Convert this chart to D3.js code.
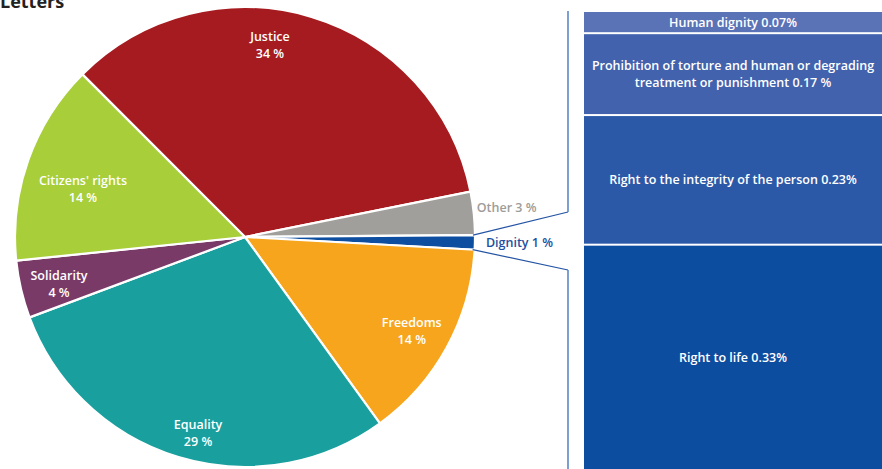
<!DOCTYPE html>
<html><head><meta charset="utf-8">
<script src="https://cdn.jsdelivr.net/npm/d3@7"></script>
<style>
html,body{margin:0;padding:0;background:#fff;}
svg text{font-family:"Open Sans","Noto Sans",sans-serif;}
</style></head>
<body><svg id="c" width="882" height="469"></svg>
<script>
// ---- data ----
const categories = ["Justice", "Other", "Dignity", "Freedoms", "Equality", "Solidarity", "Citizens' rights"];
const shares = [34, 3, 1, 14, 29, 4, 14];
const pieLabels = ["34 %", "3 %", "1 %", "14 %", "29 %", "4 %", "14 %"];
const subCategories = ["Human dignity", "Prohibition of torture and human or degrading treatment or punishment", "Right to the integrity of the person", "Right to life"];
const subShares = [0.07, 0.17, 0.23, 0.33];
const subLabels = [["Human dignity 0.07%"], ["Prohibition of torture and human or degrading", "treatment or punishment 0.17 %"], ["Right to the integrity of the person 0.23%"], ["Right to life 0.33%"]];

// ---- styles / layout ----
const colors = {"Justice":"#a61b1f","Other":"#a19f9b","Dignity":"#0e4ea0","Freedoms":"#f7a51d","Equality":"#189f9e","Solidarity":"#7a3a68","Citizens' rights":"#a8ce3a"};
const subColors = ["#5a72b6", "#4262ad", "#2c59a7", "#0d4da0"];
const outside = {"Other":"#9e9c98","Dignity":"#1f4fa0"};
const nudge = {"Justice":[-30,-10],"Citizens' rights":[17,16],"Solidarity":[-1,4],"Equality":[8,14],"Freedoms":[0,3]};
const outNudge = {"Other":[-7,0],"Dignity":[1,4]};

const svg = d3.select("#c");
const cx = 245, cy = 237, R = 230;

svg.append("text").attr("x", 0).attr("y", 8).attr("font-size", 18).attr("font-weight", 700)
  .attr("fill", "#222").text("Letters");

const data = categories.map((c, i) => ({cat: c, value: shares[i], label: pieLabels[i]}));
const pie = d3.pie().sort(null).value(d => d.value).startAngle(-Math.PI / 4).endAngle(2 * Math.PI - Math.PI / 4);
const arcs = pie(data);
const arc = d3.arc().innerRadius(0).outerRadius(R);
const labelArc = d3.arc().innerRadius(190).outerRadius(190);
const outArc = d3.arc().innerRadius(240).outerRadius(240);

const g = svg.append("g").attr("transform", `translate(${cx},${cy})`);

const dig = arcs.find(a => a.data.cat === "Dignity");
const pt = (ang, r) => [Math.sin(ang) * r, -Math.cos(ang) * r];
const bx = 568 - cx;
const p1 = pt(dig.startAngle, R - 2), p2 = pt(dig.endAngle, R - 2);

g.selectAll("path.slice").data(arcs).join("path").attr("class", "slice")
  .attr("d", arc).attr("fill", d => colors[d.data.cat])
  .attr("stroke", "#fff").attr("stroke-width", 2.2).attr("stroke-linejoin", "round");

g.append("path").attr("d", `M${p1[0]},${p1[1]} L${bx},${212 - cy}`).attr("stroke", "#2454a3").attr("stroke-width", 1.2).attr("fill", "none");
g.append("path").attr("d", `M${p2[0]},${p2[1]} L${bx},${270 - cy}`).attr("stroke", "#2454a3").attr("stroke-width", 1.2).attr("fill", "none");
svg.append("line").attr("x1", 568).attr("x2", 568).attr("y1", 11).attr("y2", 212).attr("stroke", "#5a88c6").attr("stroke-width", 1.6);
svg.append("line").attr("x1", 568).attr("x2", 568).attr("y1", 270).attr("y2", 469).attr("stroke", "#5a88c6").attr("stroke-width", 1.6);

arcs.filter(a => !outside[a.data.cat]).forEach(a => {
  const [x, y] = labelArc.centroid(a);
  const n = nudge[a.data.cat] || [0, 0];
  const t = g.append("text").attr("text-anchor", "middle").attr("fill", "#fff").attr("font-size", 12.5)
    .attr("font-weight", 600).attr("transform", `translate(${x + n[0]},${y + n[1]})`);
  t.append("tspan").attr("x", 0).attr("y", -4).text(a.data.cat);
  t.append("tspan").attr("x", 0).attr("y", 13).text(a.data.label);
});
arcs.filter(a => outside[a.data.cat]).forEach(a => {
  const [x, y] = outArc.centroid(a);
  const n = outNudge[a.data.cat];
  g.append("text").attr("x", x + n[0]).attr("y", y + n[1]).attr("fill", outside[a.data.cat])
    .attr("font-size", 12.5).attr("font-weight", 600).text(a.data.cat + " " + a.data.label);
});

// stacked bar of dignity
const barX = 584, barW = 882 - 584, barTop = 12, gap = 2, barBottom = 469;
const expo = 1.55;
const powSum = d3.sum(subShares, v => Math.pow(v, expo));
const hScale = d3.scalePow().exponent(expo).domain([0, 1])
  .range([0, (barBottom - barTop - gap * (subShares.length - 1)) / powSum]);
let yy = barTop;
const segs = subShares.map((v, i) => { const h = hScale(v); const s = {i, y: yy, h}; yy += h + gap; return s; });
svg.selectAll("rect.seg").data(segs).join("rect").attr("class", "seg")
  .attr("x", barX).attr("width", barW).attr("y", d => d.y).attr("height", d => d.h)
  .attr("fill", d => subColors[d.i]);
segs.forEach(s => {
  const lines = subLabels[s.i];
  const t = svg.append("text").attr("text-anchor", "middle").attr("fill", "#fff").attr("font-size", 12.5).attr("font-weight", 600);
  lines.forEach((l, k) => {
    t.append("tspan").attr("x", barX + barW / 2)
      .attr("y", s.y + s.h / 2 + 4.5 + (k - (lines.length - 1) / 2) * 17).text(l);
  });
});
</script></body></html>
